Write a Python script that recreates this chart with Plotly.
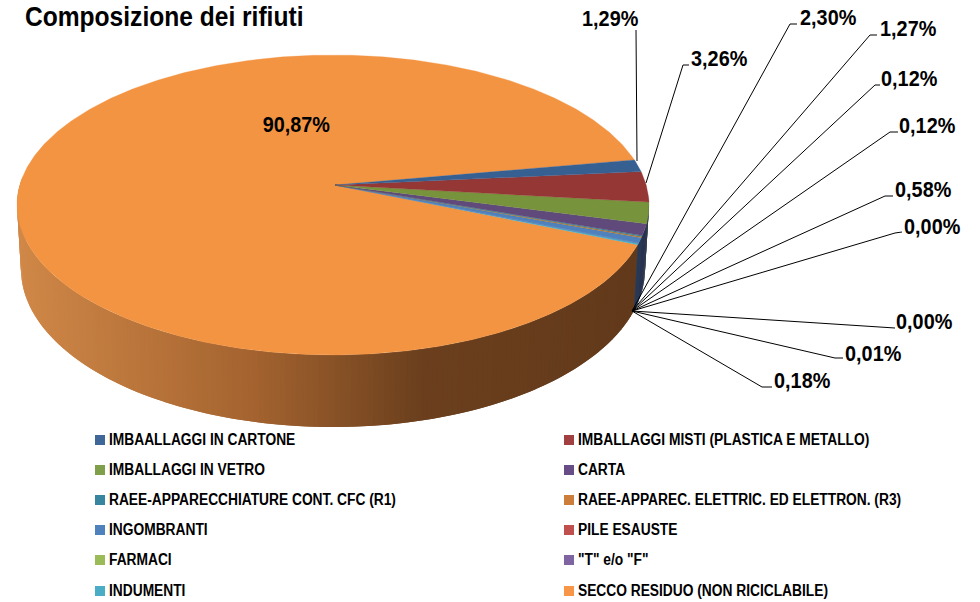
import math
import plotly.graph_objects as go

categories = ["IMBAALLAGGI IN CARTONE", "IMBALLAGGI MISTI (PLASTICA E METALLO)", "IMBALLAGGI IN VETRO", "CARTA",
              "RAEE-APPARECCHIATURE CONT. CFC (R1)", "RAEE-APPAREC. ELETTRIC. ED ELETTRON. (R3)", "INGOMBRANTI",
              "PILE ESAUSTE", "FARMACI", '"T" e/o "F"', "INDUMENTI", "SECCO RESIDUO (NON RICICLABILE)"]
values = [1.29, 3.26, 2.30, 1.27, 0.12, 0.12, 0.58, 0.00, 0.00, 0.01, 0.18, 90.87]
top_colors = ["#376092", "#953735", "#77933C", "#604A7B", "#31859C", "#B9772F", "#4F81BD",
              "#C0504D", "#9BBB59", "#8064A2", "#4BACC6", "#F39443"]
legend_colors = ["#3F6797", "#A04040", "#7F9F4A", "#674C85", "#37859F", "#CC7D3A", "#4F81BD",
                 "#C0504D", "#9BBB59", "#8064A2", "#4BACC6", "#F79646"]
title = "Composizione dei rifiuti"

FONT = "Liberation Sans, sans-serif"
START = -17.5
APEX = (335, 185)
TOP = dict(cx=333, cy=205, rx=316, ry=150)
BOT = dict(cx=333, cy=269, rx=312, ry=158)
origin = (632, 311)
leaders = [((637, 161), (636, 30), (636, 30), 610, 18),
           ((646, 183), (683, 65), (689, 65), 719, 58),
           (None, (790, 24), (797, 24), 828, 17),
           (None, (870, 35), (877, 35), 908, 28),
           (None, (875, 85), (880, 85), 909, 78),
           (None, (890, 132), (898, 132), 927, 125),
           (None, (885, 196), (893, 196), 923, 189),
           (None, (895, 233), (902, 232), 932, 226),
           (None, (888, 328), (895, 328), 924, 321),
           (None, (835, 358), (843, 358), 873, 353),
           (None, (762, 387), (772, 387), 802, 380)]
main_label = (296, 124)
legend_y = [440, 470, 500, 530, 560, 591]
legend_x = [(100, 107), (569, 576)]


def rim(e, deg):
    a = math.radians(deg)
    return e["cx"] + e["rx"] * math.cos(a), e["cy"] + e["ry"] * math.sin(a)


def hexrgb(h):
    return tuple(int(h[i:i + 2], 16) for i in (1, 3, 5))


def wall_color(x):
    stops = [(20, (208, 136, 72)), (250, (165, 100, 48)), (420, (108, 64, 30)), (640, (98, 58, 27))]
    for (x0, c0), (x1, c1) in zip(stops, stops[1:]):
        if x <= x1:
            f = max(0, (x - x0) / (x1 - x0))
            return "rgb(%d,%d,%d)" % tuple(c0[i] + (c1[i] - c0[i]) * f for i in range(3))
    return "rgb(%d,%d,%d)" % stops[-1][1]


fig = go.Figure()


def poly(xs, ys, color, lw=0.0):
    fig.add_trace(go.Scatter(x=xs, y=ys, mode="lines", fill="toself", fillcolor=color,
                             line=dict(color=color, width=lw), hoverinfo="skip"))


bounds = [START]
for v in values:
    bounds.append(bounds[-1] + v / sum(values) * 360)

# side wall
for i, v in enumerate(values):
    t0, t1 = bounds[i], bounds[i + 1]
    if v == 0 or t1 < -3:
        continue
    t0 = max(t0, -3)
    t1 = min(t1, 190)
    last = i == len(values) - 1
    n = max(1, int((t1 - t0) / 1.0))
    for k in range(n):
        a, b = t0 + (t1 - t0) * k / n, t0 + (t1 - t0) * (k + 1) / n
        e = b + 1.0
        p = [rim(TOP, a), rim(TOP, e), rim(BOT, e), rim(BOT, a), rim(TOP, a)]
        if last:
            col = wall_color((rim(TOP, a)[0] + rim(TOP, b)[0]) / 2)
        else:
            r, g, bl = hexrgb(top_colors[i])
            col = "rgb(%d,%d,%d)" % (r * .12 + 30, g * .12 + 42, bl * .12 + 66)
        poly([q[0] for q in p], [q[1] for q in p], col)

# top face
for i in range(len(values) - 1, -1, -1):
    if values[i] == 0:
        continue
    t0, t1 = bounds[i], bounds[i + 1]
    n = max(2, int(t1 - t0) * 2)
    pts = [rim(TOP, t0 + (t1 - t0) * k / n) for k in range(n + 1)]
    poly([APEX[0]] + [p[0] for p in pts] + [APEX[0]], [APEX[1]] + [p[1] for p in pts] + [APEX[1]], top_colors[i], 0.3)

# leaders and labels
label_font = dict(family=FONT, size=22, color="#000000")
for v, (s, e, f, lx, ly) in zip(values, leaders):
    s = s or origin
    fig.add_trace(go.Scatter(x=[s[0], e[0], f[0]], y=[s[1], e[1], f[1]], mode="lines",
                             line=dict(color="#000000", width=1), hoverinfo="skip"))
    fig.add_annotation(x=lx, y=ly, text="<b>%s%%</b>" % f"{v:.2f}".replace(".", ","), showarrow=False,
                       font=label_font, xanchor="center", yanchor="middle")
fig.add_annotation(x=main_label[0], y=main_label[1], text="<b>%s%%</b>" % f"{values[-1]:.2f}".replace(".", ","),
                   showarrow=False, font=label_font, xanchor="center", yanchor="middle")

# legend
for i, name in enumerate(categories):
    mx, tx = legend_x[i % 2]
    y = legend_y[i // 2]
    fig.add_trace(go.Scatter(x=[mx], y=[y], mode="markers",
                             marker=dict(symbol="square", size=10, color=legend_colors[i], line=dict(width=0)),
                             hoverinfo="skip"))
    fig.add_annotation(x=tx, y=y - 1, text="<b>%s</b>" % name, showarrow=False, xanchor="left", yanchor="middle",
                       font=dict(family=FONT, size=16, color="#000000"))

fig.add_annotation(x=23, y=17, text="<b>%s</b>" % title, showarrow=False, xanchor="left", yanchor="middle",
                   font=dict(family=FONT, size=27, color="#000000"))

fig.update_layout(width=980, height=602, margin=dict(l=0, r=0, t=0, b=0), showlegend=False,
                  paper_bgcolor="#FFFFFF", plot_bgcolor="#FFFFFF",
                  xaxis=dict(range=[0, 980], visible=False, fixedrange=True),
                  yaxis=dict(range=[602, 0], visible=False, fixedrange=True))

post = """
document.body.style.margin='0';
var ratio={'16':0.86,'22':0.90,'27':0.91};
var leftAnchored={'16':1,'27':1};
document.querySelectorAll('.annotation-text').forEach(function(t){
  var fs=String(parseInt(window.getComputedStyle(t).fontSize));
  var r=ratio[fs]||1;
  var w=t.getComputedTextLength();
  t.setAttribute('lengthAdjust','spacingAndGlyphs');
  t.setAttribute('textLength',w*r);
  if(leftAnchored[fs]){
    var dx=w*(1-r)/2;
    t.setAttribute('x',parseFloat(t.getAttribute('x'))-dx);
    t.querySelectorAll('tspan[x]').forEach(function(s){s.setAttribute('x',parseFloat(s.getAttribute('x'))-dx);});
  }
});
"""
fig.write_html("out.html", post_script=post, config=dict(displayModeBar=False, staticPlot=True))
